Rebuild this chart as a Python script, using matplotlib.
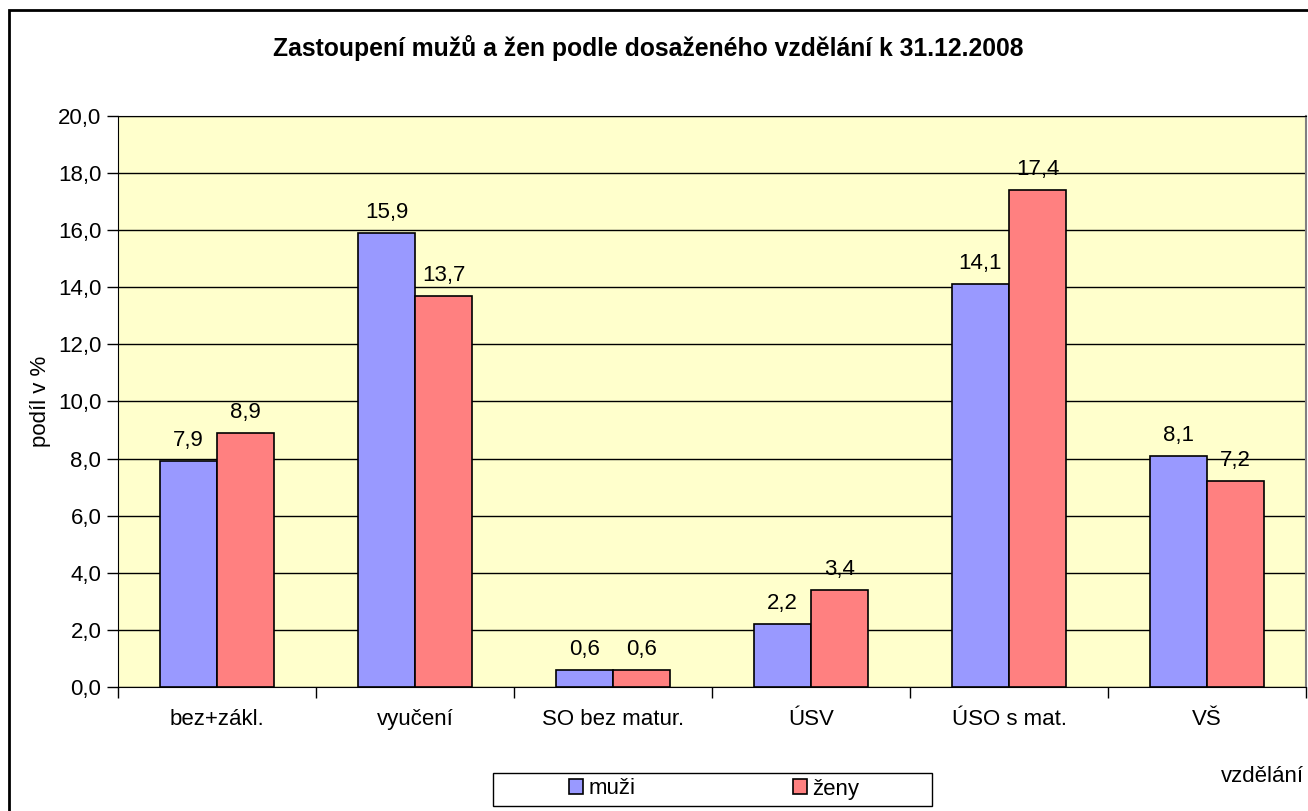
import matplotlib.pyplot as plt
import numpy as np
from matplotlib.patches import Rectangle

plt.rcParams['font.family'] = ['Liberation Sans', 'DejaVu Sans']

categories = ['bez+zákl.', 'vyučení', 'SO bez matur.', 'ÚSV', 'ÚSO s mat.', 'VŠ']
muzi = [7.9, 15.9, 0.6, 2.2, 14.1, 8.1]
zeny = [8.9, 13.7, 0.6, 3.4, 17.4, 7.2]
yticks = np.arange(0, 20.1, 2.0)

fs = 16
fig = plt.figure(figsize=(13.08, 8.11), dpi=100)
ax = fig.add_axes([118/1308, 1-687/811, (1306-118)/1308, (687-116)/811])
ax.set_facecolor('#FFFFCC')

x = np.arange(len(categories))
w = 0.288
b1 = ax.bar(x - w/2, muzi, w, color='#9999FF', edgecolor='black', linewidth=1.2, label='muži', zorder=3)
b2 = ax.bar(x + w/2, zeny, w, color='#FF8080', edgecolor='black', linewidth=1.2, label='ženy', zorder=3)
for bars, vals in ((b1, muzi), (b2, zeny)):
    for r, v in zip(bars, vals):
        ax.text(r.get_x() + r.get_width()/2, v + 0.35, f'{v:.1f}'.replace('.', ','),
                ha='center', va='bottom', fontsize=fs)

ax.set_xlim(-0.5, len(categories) - 0.5)
ax.set_ylim(0, 20)
ax.set_yticks(yticks)
ax.set_yticklabels([f'{t:.1f}'.replace('.', ',') for t in yticks], fontsize=fs)
ax.yaxis.grid(True, color='black', linewidth=1.0, zorder=0)
ax.set_axisbelow(True)
ax.set_xticks(x)
ax.set_xticklabels(categories, fontsize=fs)
ax.set_xticks(np.arange(-0.5, len(categories)), minor=True)
ax.tick_params(axis='x', which='major', length=0, pad=16)
ax.tick_params(axis='x', which='minor', length=8, width=1, direction='out')
ax.tick_params(axis='y', length=8, width=1, direction='out', pad=4)
for s in ('left', 'bottom', 'top'):
    ax.spines[s].set_color('black')
ax.spines['right'].set_color('#808080')
ax.spines['right'].set_linewidth(1.5)

ax.set_ylabel('podíl v %', fontsize=fs, labelpad=5)
fig.text(648/1308, 1-48/811, 'Zastoupení mužů a žen podle dosaženého vzdělání k 31.12.2008',
         ha='center', va='center', fontsize=17.8, fontweight='bold')
fig.text(1304/1308, 1-776/811, 'vzdělání', ha='right', va='center', fontsize=fs)

leg = fig.legend(loc='center', bbox_to_anchor=(714/1308, 1-789/811), ncol=2, fontsize=fs,
                 frameon=False, columnspacing=7.1,
                 handlelength=0.63, handleheight=0.63, handletextpad=0.25, borderpad=0,
                 borderaxespad=0)
for h in leg.legend_handles:
    h.set_linewidth(1.2)
fig.add_artist(Rectangle((493/1308, 1-806/811), (932-493)/1308, 33/811, transform=fig.transFigure,
                         fill=False, edgecolor='black', linewidth=1.0))

fig.add_artist(Rectangle((9/1308, -0.1), 1.2, 1-10/811 + 0.1, transform=fig.transFigure,
                         fill=False, edgecolor='black', linewidth=2))

fig.savefig('out.png', dpi=100)
